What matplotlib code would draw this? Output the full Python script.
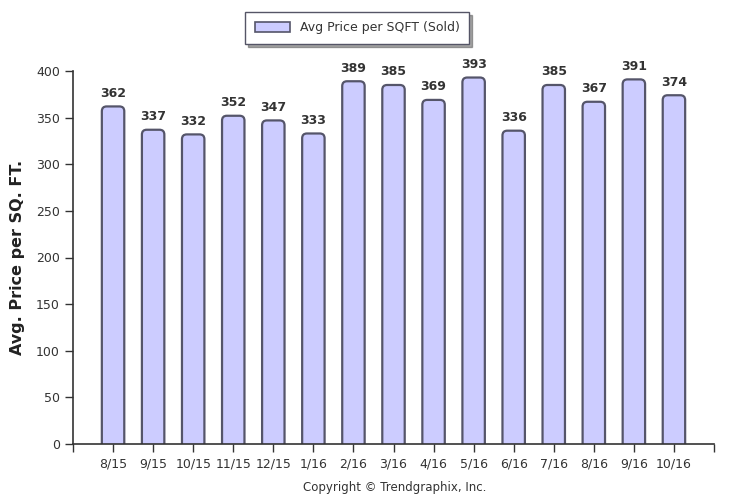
import matplotlib
matplotlib.use("Agg")
import matplotlib.pyplot as plt
from matplotlib.patches import FancyBboxPatch, Patch

months = ["8/15", "9/15", "10/15", "11/15", "12/15", "1/16", "2/16", "3/16",
          "4/16", "5/16", "6/16", "7/16", "8/16", "9/16", "10/16"]
price_sqft = [362, 337, 332, 352, 347, 333, 389, 385, 369, 393, 336, 385, 367, 391, 374]

fill = "#ccccff"
edge = "#55556a"
txt = "#333333"

fig = plt.figure(figsize=(7.33, 5.0), dpi=100)
ax = fig.add_axes([73/733, 1-444/500, (714-73)/733, (444-71)/500])

xpos = list(range(1, len(months) + 1))
bars = ax.bar(xpos, price_sqft, width=0.56, color="none", edgecolor="none")
for b, v in zip(bars, price_sqft):
    x0, w, h = b.get_x(), b.get_width(), b.get_height()
    p = FancyBboxPatch((x0, -20), w, h + 20,
                       boxstyle="round,pad=0,rounding_size=0.12",
                       mutation_aspect=43, facecolor=fill, edgecolor=edge,
                       linewidth=1.6, clip_on=True)
    ax.add_patch(p)
    ax.text(b.get_x() + w/2, h + 7, str(v), ha="center", va="bottom",
            fontsize=9, fontweight="bold", color=txt)

ax.set_xlim(0, 16)
ax.set_ylim(0, 400)
ax.set_xticks(xpos)
ax.set_xticklabels(months)
ax.set_yticks(range(0, 401, 50))
for s in ["top", "right"]:
    ax.spines[s].set_visible(False)
for s in ["left", "bottom"]:
    ax.spines[s].set_color("#333333")
    ax.spines[s].set_linewidth(1.2)
ax.tick_params(axis="both", colors="#333333", labelsize=9, length=6, width=1.0,
               labelcolor=txt)
ax.tick_params(axis="x", pad=4)
ax.set_xticks([0, 16], minor=True)
ax.tick_params(axis="x", which="minor", length=6, width=1.0, colors="#333333")

ax.set_ylabel("Avg. Price per SQ. FT.", fontsize=11.5, fontweight="bold", color="#222222")
ax.yaxis.set_label_coords(-0.075, 0.5)

leg = fig.legend(handles=[Patch(facecolor=fill, edgecolor=edge, linewidth=1.2,
                                label="Avg Price per SQFT (Sold)")],
                 loc="center", bbox_to_anchor=(357/733, 1-28/500),
                 frameon=True, fancybox=False, shadow=True, fontsize=9,
                 handlelength=2.8, handleheight=0.9, borderpad=0.75,
                 borderaxespad=0)
leg.get_frame().set_edgecolor("#555566")
leg.get_frame().set_linewidth(1.0)
for t in leg.get_texts():
    t.set_color(txt)

fig.text(395/733, 1-488/500, "Copyright \u00a9 Trendgraphix, Inc.", ha="center",
         va="center", fontsize=8.5, color=txt)

fig.savefig("out.png", dpi=100)
